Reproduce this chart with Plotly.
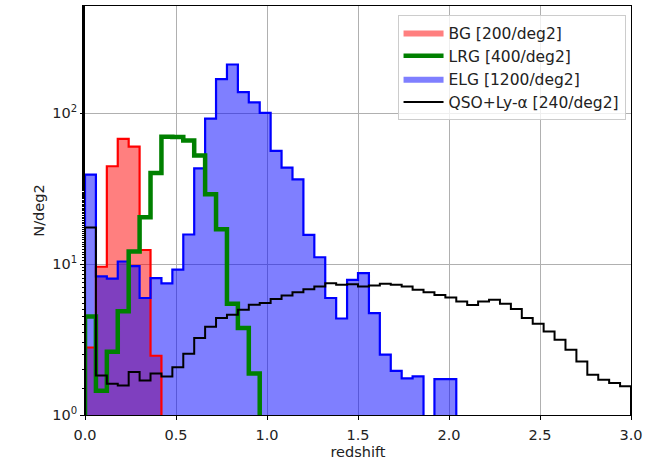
import numpy as np
import plotly.graph_objects as go

# bin edges (0.06 wide) from 0 to 3
edges = [round(0.06 * i, 2) for i in range(51)]

bg = [2.8, 9.6, 44.5, 67.5, 60.1, 12.4, 2.47] + [0] * 43
lrg = [4.5, 1.45, 2.62, 4.86, 12.1, 20.4, 40.1, 69.8, 69.4, 66.0, 52.5, 29.0, 17.0, 5.46, 3.77, 1.88] + [0] * 34
elg = [39.2, 8.3, 8.0, 10.4, 9.7, 5.96, 8.07, 7.45, 9.2, 15.7, 43.0, 92.0, 168, 210, 138, 118, 100.5,
       56.2, 43.6, 36.4, 15.6, 11.1, 5.96, 4.36, 7.85, 8.7, 4.73, 2.51, 1.96, 1.75, 1.80, 0, 1.73, 1.73] + [0] * 16
qso = [17.5, 1.83, 1.61, 1.57, 1.93, 1.69, 1.88, 1.80, 2.07, 2.55, 3.24, 3.85, 4.4, 4.62, 4.98, 5.38,
       5.52, 5.87, 6.2, 6.5, 6.8, 7.1, 7.45, 7.3, 7.35, 7.11, 7.2, 7.41, 7.29, 7.11, 6.75, 6.5, 6.25,
       6.0, 5.65, 5.35, 5.65, 5.80, 5.46, 5.04, 4.39, 4.02, 3.58, 3.15, 2.71, 2.26, 1.85, 1.71, 1.63, 1.55]

names = ["BG [200/deg2]", "LRG [400/deg2]", "ELG [1200/deg2]", "QSO+Ly-\u03b1 [240/deg2]"]
xticks = [0.0, 0.5, 1.0, 1.5, 2.0, 2.5, 3.0]
yticks = [1, 10, 100]
yticktext = ["10<sup>0</sup>", "10<sup>1</sup>", "10<sup>2</sup>"]

FLOOR = 1e-3


def step_xy(vals):
    v = [max(val, FLOOR) for val in vals]
    xs = [edges[0]] + edges[:-1] + [edges[-1], edges[-1]]
    ys = [FLOOR] + v + [v[-1], FLOOR]
    return xs, ys


fig = go.Figure()

# fills
for vals, fillc, name, rank in [(bg, "rgba(255,0,0,0.5)", names[0], 1),
                                (elg, "rgba(0,0,255,0.5)", names[2], 3)]:
    xs, ys = step_xy(vals)
    fig.add_trace(go.Scatter(x=xs, y=ys, mode="lines", line=dict(width=0, shape="hv"),
                             fill="toself", fillcolor=fillc, name=name, legendrank=rank,
                             hoverinfo="skip"))

# outlines
for vals, col, w, name, rank, show in [(bg, "#ff0000", 2.2, names[0], 1, False),
                                       (elg, "#0000ff", 2.2, names[2], 3, False),
                                       (lrg, "#008000", 4.5, names[1], 2, True),
                                       (qso, "#000000", 2.0, names[3], 4, True)]:
    xs, ys = step_xy(vals)
    fig.add_trace(go.Scatter(x=xs, y=ys, mode="lines", line=dict(color=col, width=w, shape="hv"),
                             name=name, showlegend=show, legendrank=rank, hoverinfo="skip"))

fig.update_layout(
    width=647, height=460,
    margin=dict(l=85, r=16, t=6, b=45),
    paper_bgcolor="white", plot_bgcolor="white",
    font=dict(family="DejaVu Sans", size=14.5, color="#222"),
    showlegend=True,
    legend=dict(x=0.99, y=0.978, xanchor="right", yanchor="top",
                bgcolor="rgba(255,255,255,0.8)", bordercolor="#cccccc", borderwidth=1,
                font=dict(size=15.5, color="#222"), tracegroupgap=0, itemwidth=40),
)
fig.update_xaxes(range=[0, 3.0], tickvals=xticks, tickformat=".1f", automargin=False,
                 showline=True, mirror=True, linecolor="black", linewidth=1,
                 ticks="outside", ticklen=4, tickcolor="black", ticklabelstandoff=3,
                 showgrid=True, gridcolor="#b0b0b0", gridwidth=0.8, zeroline=False,
                 title=dict(text="redshift", standoff=6, font=dict(size=14.5)))
fig.update_yaxes(type="log", range=[0, 2.71], tickvals=yticks, ticktext=yticktext,
                 automargin=False,
                 showline=True, mirror=True, linecolor="black", linewidth=1,
                 ticks="outside", ticklen=4, tickcolor="black",
                 minor=dict(ticks="outside", ticklen=2, tickcolor="black", showgrid=False),
                 showgrid=True, gridcolor="#b0b0b0", gridwidth=0.8, zeroline=False,
                 title=dict(text="N/deg2", standoff=4, font=dict(size=14.5)))

fig.write_html("out.html")
